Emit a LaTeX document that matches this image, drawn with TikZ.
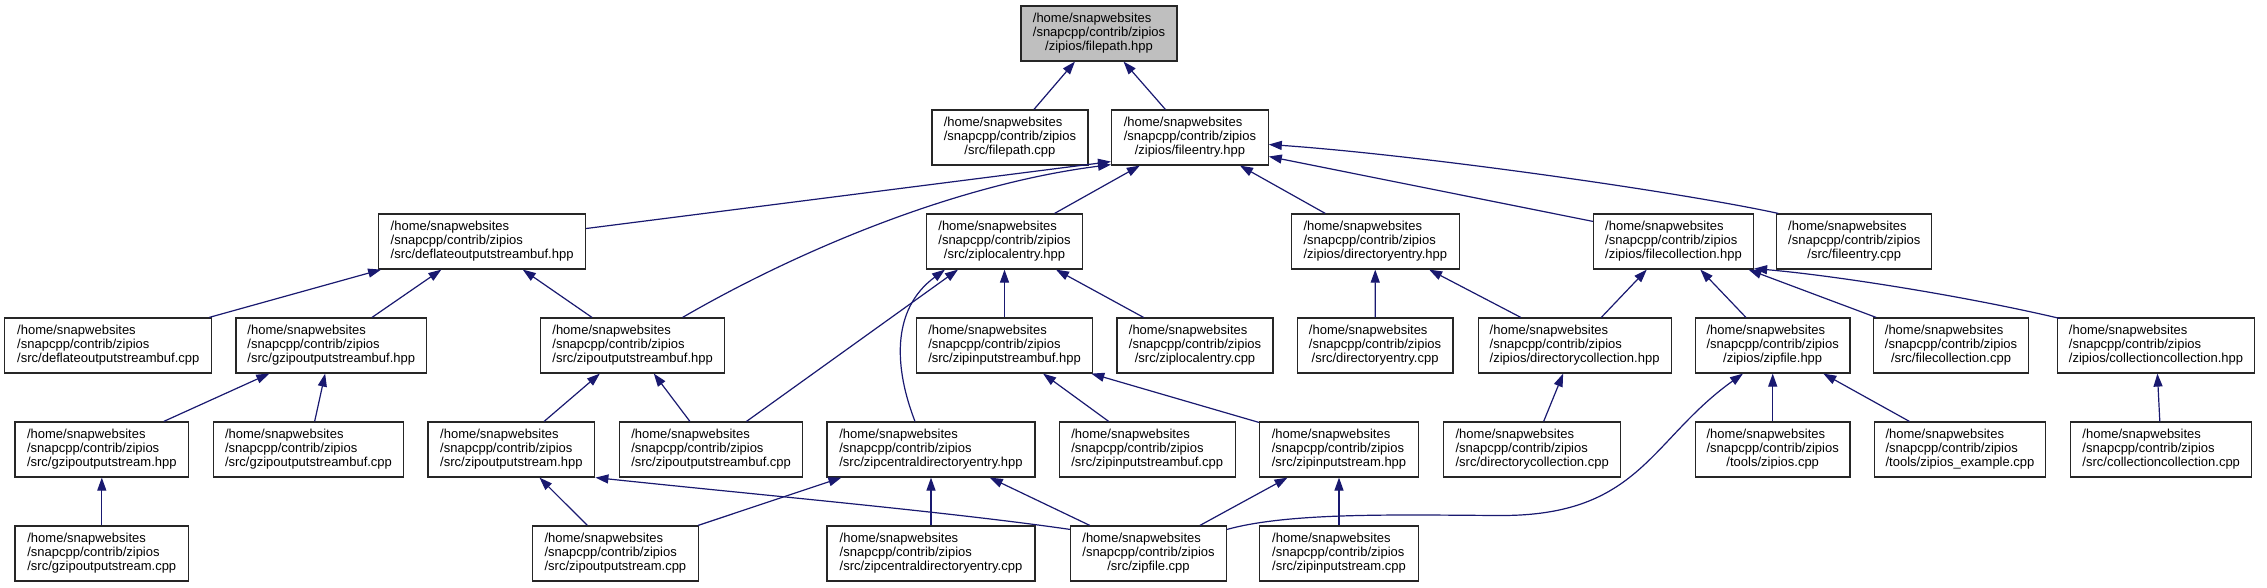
\documentclass[tikz,border=0pt]{standalone}
\usepackage{fontspec}
\setmainfont{Liberation Sans}
\usetikzlibrary{arrows.meta,calc}
\definecolor{edgeblue}{HTML}{191970}
\definecolor{rootgray}{HTML}{BFBFBF}
\newcommand{\flab}[1]{\begin{tabular}{@{}l@{}}/home/snapwebsites\\/snapcpp/contrib/zipios\\\multicolumn{1}{@{}c@{}}{#1}\end{tabular}}
\tikzset{
  filebox/.style={draw=black!85, line width=1.2pt, fill=white, inner sep=0pt,
    minimum height=55pt, font=\fontsize{13}{14.3}\selectfont},
  dep/.style={draw=edgeblue, line width=1.2pt, -{Triangle[length=13pt,width=9pt]}}
}
\begin{document}
\begin{tikzpicture}[x=1pt,y=-1pt]
\useasboundingbox[fill=white] (0,0) rectangle (2267,587);
% row 0
\node[filebox, fill=rootgray, minimum width=156pt] (fphpp) at (1099,33.5) {\flab{/zipios/filepath.hpp}};
% row 1
\node[filebox, minimum width=156pt] (fpcpp) at (1009.9,137.5) {\flab{/src/filepath.cpp}};
\node[filebox, minimum width=156.6pt] (fehpp) at (1189.9,137.5) {\flab{/zipios/fileentry.hpp}};
% row 2
\node[filebox, minimum width=207pt] (dosbhpp) at (482.1,241.5) {\flab{/src/deflateoutputstreambuf.hpp}};
\node[filebox, minimum width=156pt] (zlehpp) at (1004.5,241.5) {\flab{/src/ziplocalentry.hpp}};
\node[filebox, minimum width=168pt] (dehpp) at (1375.3,241.5) {\flab{/zipios/directoryentry.hpp}};
\node[filebox, minimum width=160pt] (fchpp) at (1673.5,241.5) {\flab{/zipios/filecollection.hpp}};
\node[filebox, minimum width=155pt] (fecpp) at (1854.3,241.5) {\flab{/src/fileentry.cpp}};
% row 3
\node[filebox, minimum width=207pt] (dosbcpp) at (108.3,345.5) {\flab{/src/deflateoutputstreambuf.cpp}};
\node[filebox, minimum width=190.5pt] (gosbhpp) at (331.3,345.5) {\flab{/src/gzipoutputstreambuf.hpp}};
\node[filebox, minimum width=184pt] (zosbhpp) at (632.6,345.5) {\flab{/src/zipoutputstreambuf.hpp}};
\node[filebox, minimum width=176.4pt] (zisbhpp) at (1004.5,345.5) {\flab{/src/zipinputstreambuf.hpp}};
\node[filebox, minimum width=156pt] (zlecpp) at (1195,345.5) {\flab{/src/ziplocalentry.cpp}};
\node[filebox, minimum width=155.6pt] (decpp) at (1375.1,345.5) {\flab{/src/directoryentry.cpp}};
\node[filebox, minimum width=193pt] (dchpp) at (1574.6,345.5) {\flab{/zipios/directorycollection.hpp}};
\node[filebox, minimum width=154.7pt] (zfhpp) at (1772.7,345.5) {\flab{/zipios/zipfile.hpp}};
\node[filebox, minimum width=154.7pt] (fccpp) at (1951,345.5) {\flab{/src/filecollection.cpp}};
\node[filebox, minimum width=197.3pt] (cchpp) at (2156,345.5) {\flab{/zipios/collectioncollection.hpp}};
% row 4
\node[filebox, minimum width=173.6pt] (goshpp) at (101.8,449.5) {\flab{/src/gzipoutputstream.hpp}};
\node[filebox, minimum width=190.5pt] (gosbcpp) at (308.5,449.5) {\flab{/src/gzipoutputstreambuf.cpp}};
\node[filebox, minimum width=166.8pt] (zoshpp) at (511.4,449.5) {\flab{/src/zipoutputstream.hpp}};
\node[filebox, minimum width=183.3pt] (zosbcpp) at (711.1,449.5) {\flab{/src/zipoutputstreambuf.cpp}};
\node[filebox, minimum width=208pt] (zcdehpp) at (931,449.5) {\flab{/src/zipcentraldirectoryentry.hpp}};
\node[filebox, minimum width=176pt] (zisbcpp) at (1147.2,449.5) {\flab{/src/zipinputstreambuf.cpp}};
\node[filebox, minimum width=159pt] (zishpp) at (1339,449.5) {\flab{/src/zipinputstream.hpp}};
\node[filebox, minimum width=177pt] (dccpp) at (1532.2,449.5) {\flab{/src/directorycollection.cpp}};
\node[filebox, minimum width=154.7pt] (zioscpp) at (1772.7,449.5) {\flab{/tools/zipios.cpp}};
\node[filebox, minimum width=171.6pt] (zexcpp) at (1960,449.5) {\flab{/tools/zipios\_example.cpp}};
\node[filebox, minimum width=181.3pt] (cccpp) at (2161.2,449.5) {\flab{/src/collectioncollection.cpp}};
% row 5
\node[filebox, minimum width=173.6pt] (goscpp) at (101.8,553.5) {\flab{/src/gzipoutputstream.cpp}};
\node[filebox, minimum width=166.3pt] (zoscpp) at (615.4,553.5) {\flab{/src/zipoutputstream.cpp}};
\node[filebox, minimum width=208pt] (zcdecpp) at (931,553.5) {\flab{/src/zipcentraldirectoryentry.cpp}};
\node[filebox, minimum width=156pt] (zfcpp) at (1148.5,553.5) {\flab{/src/zipfile.cpp}};
\node[filebox, minimum width=159pt] (ziscpp) at (1339,553.5) {\flab{/src/zipinputstream.cpp}};
% edges
\draw[dep] (fpcpp) -- (fphpp);
\draw[dep] (fehpp) -- (fphpp);
\draw[dep] ($(dosbhpp.east)+(0,-13)$) -- ($(fehpp.south west)+(0,-4)$);
\draw[dep] ($(zosbhpp.north)+(50,0)$) .. controls (790,255) and (950,185) .. ($(fehpp.south west)+(0,-1)$);
\draw[dep] (zlehpp) -- (fehpp);
\draw[dep] (dehpp) -- (fehpp);
\draw[dep] ($(fchpp.north west)+(0,8)$) -- ($(fehpp.east)+(0,19)$);
\draw[dep] ($(fecpp.north west)+(2,0)$) .. controls (1680,192) and (1420,155) .. ($(fehpp.east)+(0,7)$);
\draw[dep] (dosbcpp) -- (dosbhpp);
\draw[dep] (gosbhpp) -- (dosbhpp);
\draw[dep] (zosbhpp) -- (dosbhpp);
\draw[dep] (zisbhpp) -- (zlehpp);
\draw[dep] (zlecpp) -- (zlehpp);
\draw[dep] ($(zosbcpp.north)+(35.4,0)$) -- ($(zlehpp.south)+(-46.5,0)$);
\draw[dep] ($(zcdehpp.north)+(-16,0)$) .. controls (895,370) and (890,310) .. ($(zlehpp.south)+(-59.5,0)$);
\draw[dep] (zosbcpp) -- (zosbhpp);
\draw[dep] (zoshpp) -- (zosbhpp);
\draw[dep] (goshpp) -- (gosbhpp);
\draw[dep] (gosbcpp) -- (gosbhpp);
\draw[dep] (goscpp) -- (goshpp);
\draw[dep] (zoscpp) -- (zoshpp);
\draw[dep] ($(zfcpp.north west)+(0,4)$) .. controls (950,512) and (760,495) .. (zoshpp.south east);
\draw[dep] ($(zoscpp.north east)+(-1,0)$) -- ($(zcdehpp.south west)+(15,0)$);
\draw[dep] (zcdecpp) -- (zcdehpp);
\draw[dep] (zfcpp) -- (zcdehpp);
\draw[dep] (zisbcpp) -- (zisbhpp);
\draw[dep] ($(zishpp.north west)+(0,1)$) -- ($(zisbhpp.south east)+(-2,0)$);
\draw[dep] (zfcpp) -- (zishpp);
\draw[dep] (ziscpp) -- (zishpp);
\draw[dep] ($(zfcpp.north east)+(0,4)$) .. controls (1290,512) and (1400,515) .. (1500,515.5) .. controls (1640,516) and (1650,440) .. ($(zfhpp.south)+(-29.7,0)$);
\draw[dep] (zioscpp) -- (zfhpp);
\draw[dep] (zexcpp) -- (zfhpp);
\draw[dep] (dccpp) -- (dchpp);
\draw[dep] (cccpp) -- (cchpp);
\draw[dep] (dchpp) -- (dehpp);
\draw[dep] (dchpp) -- (fchpp);
\draw[dep] (decpp) -- (dehpp);
\draw[dep] (zfhpp) -- (fchpp);
\draw[dep] (fccpp) -- (fchpp);
\draw[dep] ($(cchpp.north west)+(3,1)$) .. controls (1960,295) and (1830,275) .. ($(fchpp.south east)+(0,-1)$);
\end{tikzpicture}
\end{document}
